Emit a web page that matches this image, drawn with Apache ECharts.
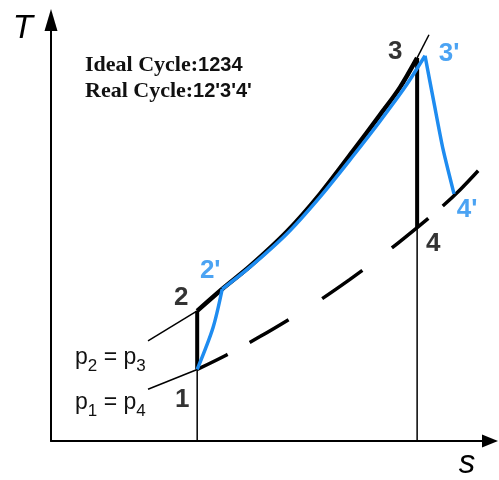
<!DOCTYPE html>
<html>
<head>
<meta charset="utf-8">
<style>
  html, body { margin: 0; padding: 0; background: #fff; }
  #chart { width: 499px; height: 480px; }
</style>
<script src="https://cdn.jsdelivr.net/npm/echarts@6/dist/echarts.min.js"></script>
</head>
<body>
<div id="chart"></div>
<script>
// Brayton cycle on a T-s diagram: ideal cycle 1-2-3-4 and real cycle 1-2'-3'-4'.
// Entropy s and temperature T are in arbitrary units (0-10 on both axes).

// State points
const stateNames = ['1', '2', "2'", '3', "3'", '4', "4'"];
const stateS = [3.33, 3.33, 3.90, 8.34, 8.52, 8.34, 9.18];
const stateT = [1.70, 3.09, 3.61, 9.10, 9.15, 5.07, 5.87];

// Ideal cycle: isentropic compression 1-2, heat addition 2-3 (p2 = p3), isentropic expansion 3-4
const idealCompression = [[3.33, 1.70], [3.33, 3.09]];
const idealHeatAddition = [[3.33, 3.09], [3.90, 3.61], [4.53, 4.15], [5.38, 4.98], [6.13, 5.87],
                           [6.88, 6.89], [7.49, 7.74], [7.95, 8.40], [8.34, 9.10]];
const idealExpansion = [[8.34, 9.10], [8.34, 5.07]];

// Real cycle: compression 1-2', heat addition 2'-3', expansion 3'-4'
const realCompression = [[3.33, 1.70], [3.69, 2.69], [3.90, 3.61]];
const realHeatAddition = [[3.90, 3.61], [4.53, 4.13], [5.38, 4.93], [6.13, 5.80], [6.88, 6.77],
                          [7.49, 7.59], [8.06, 8.40], [8.52, 9.15]];
const realExpansion = [[8.52, 9.15], [8.73, 8.00], [8.93, 6.93], [9.18, 5.87]];

// Low-pressure isobar p1 = p4 (heat rejection 4-1, drawn dashed beyond point 1)
const lowIsobar = [[3.33, 1.70], [4.01, 2.05], [4.76, 2.48], [5.44, 2.90], [6.13, 3.35], [6.81, 3.84],
                   [7.49, 4.36], [8.34, 5.07], [8.91, 5.57], [9.32, 5.97], [9.73, 6.42]];
const lowIsobarLead = [[2.21, 1.23], [3.33, 1.70]];
// High-pressure isobar p2 = p3, thin continuation outside the cycle
const highIsobarLead = [[2.21, 2.38], [3.33, 3.09]];
const highIsobarTail = [[8.34, 9.10], [8.61, 9.65]];

// Drop lines from states 1 and 4 to the s axis
const dropLine1 = [[3.33, 0], [3.33, 1.70]];
const dropLine4 = [[8.34, 0], [8.34, 5.07]];

const BLUE = '#1e8cf0';
const BLACK = '#000';

function line(data, color, width, extra) {
  return Object.assign({
    type: 'line',
    data: data,
    symbol: 'none',
    silent: true,
    lineStyle: { color: color, width: width, cap: 'butt', join: 'round' }
  }, extra || {});
}

const labelOffsets = {
  '1': [-15, 30], '2': [-16, -13], "2'": [-12, -18], '3': [-22, -6],
  "3'": [24, -2], '4': [16, 16], "4'": [13, 16]
};
const blueStates = ["2'", "3'", "4'"];

const chart = echarts.init(document.getElementById('chart'), null, { renderer: 'canvas' });
chart.setOption({
  animation: false,
  backgroundColor: '#fff',
  grid: { left: 51, right: 9, top: 20, bottom: 36 },
  xAxis: {
    type: 'value', min: 0, max: 10,
    name: 's', nameLocation: 'end', nameGap: -23,
    nameTextStyle: { fontFamily: 'Liberation Sans', fontStyle: 'italic', fontSize: 33, color: BLACK,
                     align: 'center', verticalAlign: 'top', padding: [6, 0, 0, 0] },
    axisLine: { lineStyle: { color: BLACK, width: 2 }, symbol: ['none', 'triangle'], symbolSize: [13, 16] },
    axisTick: { show: false }, axisLabel: { show: false }, splitLine: { show: false }
  },
  yAxis: {
    type: 'value', min: 0, max: 10,
    name: 'T', nameLocation: 'end', nameGap: 8,
    nameTextStyle: { fontFamily: 'Liberation Sans', fontStyle: 'italic', fontSize: 33, color: BLACK,
                     align: 'right', verticalAlign: 'top', padding: [0, 18, 0, 0] },
    axisLine: { lineStyle: { color: BLACK, width: 2 }, symbol: ['none', 'triangle'], symbolSize: [13, 22] },
    axisTick: { show: false }, axisLabel: { show: false }, splitLine: { show: false }
  },
  graphic: [{
    type: 'text', x: 85, y: 52, silent: true,
    style: {
      text: "{w|Ideal Cycle:}{n|1234}\n{w|Real Cycle:}{n|12'3'4'}",
      rich: {
        w: { fontFamily: 'Liberation Serif', fontWeight: 'bold', fontSize: 22, lineHeight: 26, fill: '#111' },
        n: { fontFamily: 'Liberation Sans', fontWeight: 'bold', fontSize: 20, lineHeight: 26, fill: '#111' }
      }
    }
  }, {
    type: 'text', x: 75, y: 343, silent: true,
    style: {
      text: '{p|p}{sub|2}{p| = p}{sub|3}',
      rich: {
        p: { fontFamily: 'Liberation Sans', fontSize: 23, lineHeight: 26, fill: '#111', verticalAlign: 'bottom' },
        sub: { fontFamily: 'Liberation Sans', fontSize: 17, lineHeight: 26, fill: '#111', verticalAlign: 'bottom', padding: [0, 0, -6, 0] }
      }
    }
  }, {
    type: 'text', x: 75, y: 388, silent: true,
    style: {
      text: '{p|p}{sub|1}{p| = p}{sub|4}',
      rich: {
        p: { fontFamily: 'Liberation Sans', fontSize: 23, lineHeight: 26, fill: '#111', verticalAlign: 'bottom' },
        sub: { fontFamily: 'Liberation Sans', fontSize: 17, lineHeight: 26, fill: '#111', verticalAlign: 'bottom', padding: [0, 0, -6, 0] }
      }
    }
  }],
  series: [
    line(dropLine1, BLACK, 1.5),
    line(dropLine4, BLACK, 1.5),
    line(lowIsobarLead, BLACK, 1.5),
    line(highIsobarLead, BLACK, 1.5),
    line(highIsobarTail, BLACK, 1.5),
    line(lowIsobar, BLACK, 3.5, { smooth: 0.3,
      lineStyle: { color: BLACK, width: 3.5, cap: 'butt', type: [34, 25, 45, 40, 49, 37, 47, 19, 60] } }),
    line(idealCompression, BLACK, 4),
    line(idealHeatAddition, BLACK, 4.5, { smooth: 0.3 }),
    line(idealExpansion, BLACK, 4),
    line(realCompression, BLUE, 3.5, { smooth: 0.3 }),
    line(realHeatAddition, BLUE, 3.5, { smooth: 0.3 }),
    line(realExpansion, BLUE, 3.5, { smooth: 0.2 }),
    {
      type: 'scatter',
      silent: true,
      symbolSize: 1,
      itemStyle: { color: 'rgba(0,0,0,0)' },
      data: stateNames.map((n, i) => ({
        name: n,
        value: [stateS[i], stateT[i]],
        label: {
          show: true, position: 'inside', formatter: '{b}',
          offset: labelOffsets[n],
          fontFamily: 'Liberation Sans', fontWeight: 'bold', fontSize: 26,
          color: blueStates.indexOf(n) >= 0 ? BLUE : BLACK
        }
      }))
    }
  ]
});
</script>
</body>
</html>
